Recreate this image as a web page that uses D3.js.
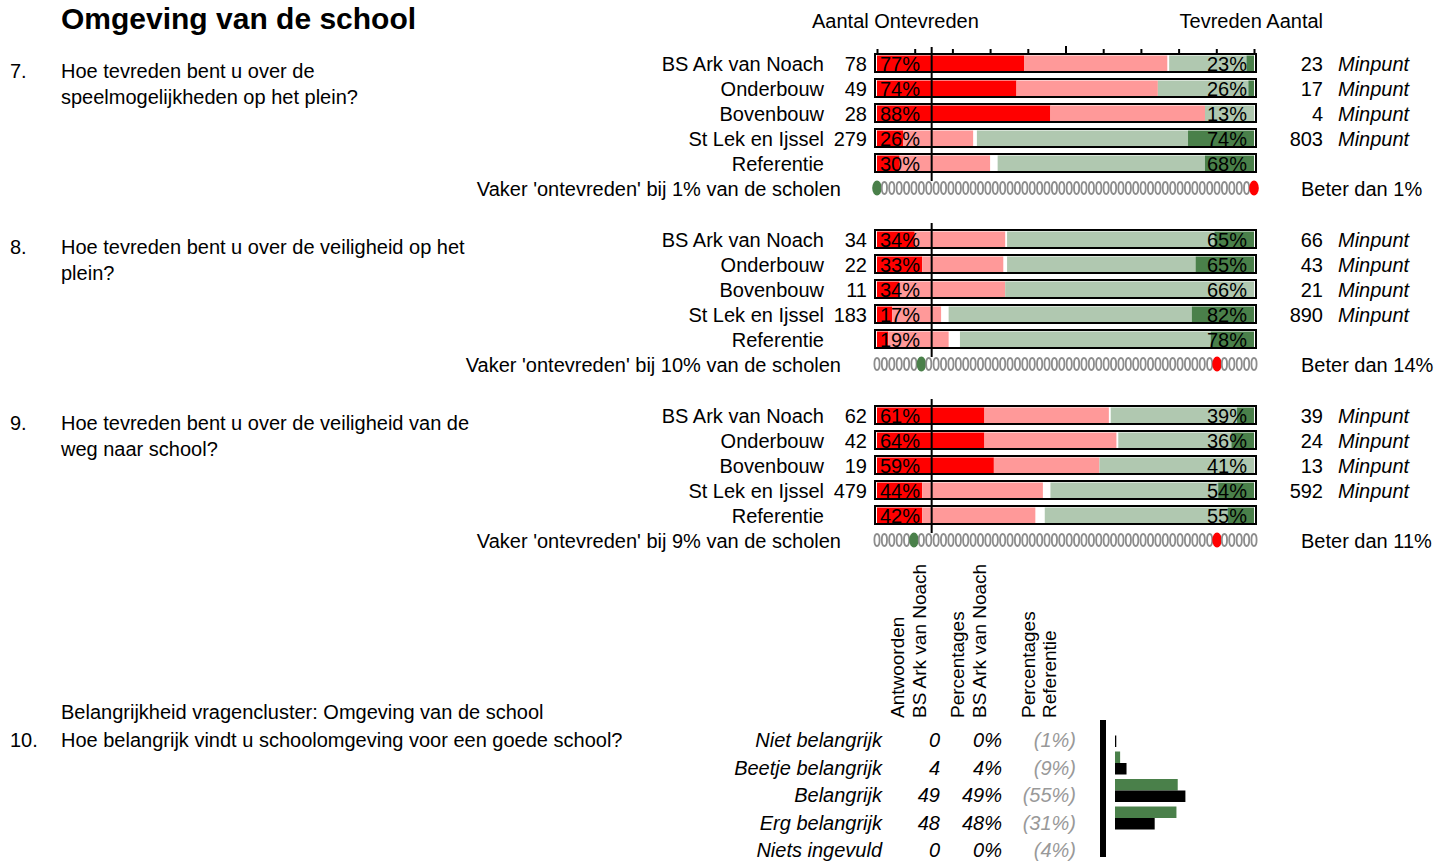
<!DOCTYPE html>
<html>
<head>
<meta charset="utf-8">
<script src="https://cdn.jsdelivr.net/npm/d3@7"></script>
<style>
  body { margin: 0; background: #fff; }
  svg { display: block; font-family: "Liberation Sans", Arial, sans-serif; }
</style>
</head>
<body>
<svg id="chart" width="1437" height="861"></svg>
<script>
// ---------------- DATA ----------------
const title = "Omgeving van de school";
const headerLeft = "Aantal Ontevreden";
const headerRight = "Tevreden Aantal";
const groups = ["BS Ark van Noach", "Onderbouw", "Bovenbouw", "St Lek en Ijssel", "Referentie"];
const questionNumbers = ["7.", "8.", "9."];
const questionLines = [
  ["Hoe tevreden bent u over de", "speelmogelijkheden op het plein?"],
  ["Hoe tevreden bent u over de veiligheid op het", "plein?"],
  ["Hoe tevreden bent u over de veiligheid van de", "weg naar school?"]
];
const countUnsat = [[78, 49, 28, 279, null], [34, 22, 11, 183, null], [62, 42, 19, 479, null]];
const countSat   = [[23, 17, 4, 803, null], [66, 43, 21, 890, null], [39, 24, 13, 592, null]];
const pctUnsat = [[77, 74, 88, 26, 30], [34, 33, 34, 17, 19], [61, 64, 59, 44, 42]];
const pctSat   = [[23, 26, 13, 74, 68], [65, 65, 66, 82, 78], [39, 36, 41, 54, 55]];
// stacked segments (percent of respondents)
const veryUnsat = [[39, 37, 46, 7, 6], [10, 12, 6, 4, 3], [28.5, 28.5, 31, 12, 12]];
const unsat     = [[38, 37.5, 41, 18.5, 24], [24, 21.5, 28, 13, 16], [33, 35, 28, 32, 30]];
const neutral   = [[0.5, 0, 0, 1, 2], [0.5, 1, 0, 2, 3], [0.5, 0.5, 0, 2, 2.5]];
const sat       = [[20.5, 24, 13, 56, 55], [55, 50, 66, 64.5, 66.5], [33.5, 30, 41, 44.5, 48.5]];
const verySat   = [[2, 1.5, 0, 17.5, 13], [10.5, 15.5, 0, 16.5, 11.5], [4.5, 6, 0, 9.5, 7]];
const minpuntLabel = ["Minpunt", "Minpunt", "Minpunt", "Minpunt", ""];
const markerPct = [14.5, 14.5, 14.5];
const compareText = [
  "Vaker 'ontevreden' bij 1% van de scholen",
  "Vaker 'ontevreden' bij 10% van de scholen",
  "Vaker 'ontevreden' bij 9% van de scholen"
];
const betterText = ["Beter dan 1%", "Beter dan 14%", "Beter dan 11%"];
const dotCount = 52;
const greenDot = [0, 6, 5];
const redDot = [51, 46, 46];
const axisTicks = [0, 10, 20, 30, 40, 50, 60, 70, 80, 90, 100];

const clusterTitle = "Belangrijkheid vragencluster: Omgeving van de school";
const q10Number = "10.";
const q10Text = "Hoe belangrijk vindt u schoolomgeving voor een goede school?";
const colHeaders = [["Antwoorden", "BS Ark van Noach"], ["Percentages", "BS Ark van Noach"], ["Percentages", "Referentie"]];
const importanceCats = ["Niet belangrijk", "Beetje belangrijk", "Belangrijk", "Erg belangrijk", "Niets ingevuld"];
const importanceCounts = [0, 4, 49, 48, 0];
const importancePct = [0, 4, 49, 48, 0];
const importanceRef = [1, 9, 55, 31, 4];
const importancePlotted = 4; // "Niets ingevuld" is not plotted

// ---------------- LAYOUT ----------------
const svg = d3.select("#chart");
const C = {
  darkRed: "#ff0000", lightRed: "#ff9999", lightGreen: "#b0c8b0", darkGreen: "#4a804a",
  gray: "#8c8c8c", refGray: "#999999"
};
const FS = 20;
const x = d3.scaleLinear().domain([0, 100]).range([877, 1254]);
const blockTop = [63, 239, 415];          // centre of the first row per question
const rowPitch = 25;

function text(g, str, xx, yy, opts = {}) {
  return g.append("text").attr("x", xx).attr("y", yy)
    .attr("font-size", opts.size || FS)
    .attr("text-anchor", opts.anchor || "start")
    .attr("font-weight", opts.weight || "normal")
    .attr("font-style", opts.style || "normal")
    .attr("fill", opts.fill || "#000")
    .text(str);
}

// Title and headers
text(svg, title, 61, 29, { size: 30, weight: "bold" });
text(svg, headerLeft, 812, 28);
text(svg, headerRight, 1323, 28, { anchor: "end" });

questionNumbers.forEach((qn, q) => {
  const g = svg.append("g");
  const y = d3.scaleLinear().domain([0, 1]).range([blockTop[q], blockTop[q] + rowPitch]);

  // question text
  text(g, qn, 10, y(0) + 14.5);
  questionLines[q].forEach((ln, i) => text(g, ln, 61, y(0) + 14.5 + i * 26));

  // axis ticks on first question only
  if (q === 0) {
    const axis = d3.axisTop(x).tickValues(axisTicks).tickSize(4).tickFormat("");
    const ag = g.append("g").attr("transform", `translate(0,${y(0) - 10})`).call(axis);
    ag.select(".domain").remove();
    ag.selectAll(".tick line").attr("stroke", "#000").attr("stroke-width", 2)
      .attr("y2", d => d === 50 ? -7 : -4);
  }

  groups.forEach((grp, r) => {
    const cy = y(r);
    const segs = [
      [veryUnsat[q][r], C.darkRed], [unsat[q][r], C.lightRed], [neutral[q][r], "none"],
      [sat[q][r], C.lightGreen], [verySat[q][r], C.darkGreen]
    ];
    let acc = 0;
    segs.forEach(([v, col]) => {
      if (col !== "none" && v > 0) {
        g.append("rect").attr("x", x(acc)).attr("y", cy - 7.5)
          .attr("width", x(Math.min(100, acc + v)) - x(acc)).attr("height", 15.5)
          .attr("fill", col);
      }
      acc += v;
    });
    g.append("rect").attr("x", x(0) - 2).attr("y", cy - 9)
      .attr("width", x(100) - x(0) + 4).attr("height", 18)
      .attr("fill", "none").attr("stroke", "#000").attr("stroke-width", 2);

    text(g, pctUnsat[q][r] + "%", x(0) + 3, cy + 7.5);
    text(g, pctSat[q][r] + "%", x(100) - 7, cy + 7.5, { anchor: "end" });

    text(g, grp, 824, cy + 7.5, { anchor: "end" });
    if (countUnsat[q][r] !== null) text(g, countUnsat[q][r], 867, cy + 7.5, { anchor: "end" });
    if (countSat[q][r] !== null) text(g, countSat[q][r], 1323, cy + 7.5, { anchor: "end" });
    if (minpuntLabel[r]) text(g, minpuntLabel[r], 1338, cy + 7.5, { style: "italic" });
  });

  // dots row
  const dy = y(5);
  const dotX = d3.scaleLinear().domain([0, dotCount - 1]).range([x(0), x(100)]);
  const idx = d3.range(dotCount);
  g.selectAll("ellipse.dot").data(idx).join("ellipse")
    .attr("cx", d => dotX(d)).attr("cy", dy)
    .attr("rx", d => (d === greenDot[q] || d === redDot[q]) ? 4.8 : 2.6)
    .attr("ry", d => (d === greenDot[q] || d === redDot[q]) ? 7.5 : 6)
    .attr("fill", d => d === greenDot[q] ? C.darkGreen : d === redDot[q] ? "#ff0000" : "#fff")
    .attr("stroke", d => (d === greenDot[q] || d === redDot[q]) ? "none" : C.gray)
    .attr("stroke-width", 1.8);
  text(g, compareText[q], 841, dy + 8, { anchor: "end" });
  text(g, betterText[q], 1301, dy + 8);

  // marker line
  g.append("line").attr("x1", x(markerPct[q])).attr("x2", x(markerPct[q]))
    .attr("y1", y(0) - 16).attr("y2", dy - 7)
    .attr("stroke", "#000").attr("stroke-width", 2);
});

// ---------------- Question 10 ----------------
const g10 = svg.append("g");
text(g10, clusterTitle, 61, 719);
text(g10, q10Number, 10, 747);
text(g10, q10Text, 61, 747);

const colBase = [[904, 926], [964, 986], [1035, 1056]];
colHeaders.forEach((lines, c) => {
  lines.forEach((ln, i) => {
    g10.append("text").attr("transform", `translate(${colBase[c][i]},718) rotate(-90)`)
      .attr("font-size", 19).text(ln);
  });
});

const yc = d3.scalePoint().domain(importanceCats).range([747, 857]);
importanceCats.forEach((cat, i) => {
  const yy = yc(cat);
  text(g10, cat, 882, yy, { anchor: "end", style: "italic" });
  text(g10, importanceCounts[i], 940, yy, { anchor: "end", style: "italic" });
  text(g10, importancePct[i] + "%", 1002, yy, { anchor: "end", style: "italic" });
  text(g10, "(" + importanceRef[i] + "%)", 1076, yy, { anchor: "end", style: "italic", fill: C.refGray });
});

const xb = d3.scaleLinear().domain([0, 100]).range([1115, 1243]);
g10.append("rect").attr("x", 1100).attr("y", 720).attr("width", 6).attr("height", 137).attr("fill", "#000");
const plotted = importanceCats.slice(0, importancePlotted);
g10.selectAll("rect.school").data(plotted).join("rect")
  .attr("x", xb(0)).attr("y", d => yc(d) - 23)
  .attr("width", (d, i) => xb(importancePct[i]) - xb(0)).attr("height", 11.5)
  .attr("fill", C.darkGreen);
g10.selectAll("rect.ref").data(plotted).join("rect")
  .attr("x", xb(0)).attr("y", d => yc(d) - 11.5)
  .attr("width", (d, i) => xb(importanceRef[i]) - xb(0)).attr("height", 11.5)
  .attr("fill", "#000");
</script>
</body>
</html>
